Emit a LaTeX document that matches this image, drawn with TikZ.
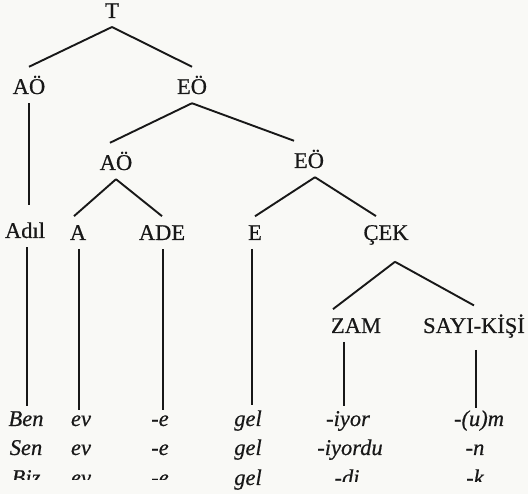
\documentclass[tikz,border=0pt]{standalone}
\usepackage{fontspec}
\setmainfont{Liberation Serif}
\usetikzlibrary{calc}
\definecolor{ink}{RGB}{24,24,24}
\definecolor{paper}{RGB}{249,249,246}
\tikzset{
  lbl/.style={anchor=base, inner sep=0pt, outer sep=9pt, text=ink, font=\fontsize{22.5}{27}\selectfont\addfontfeatures{FakeBold=0.5}},
  word/.style={anchor=base, inner sep=0pt, outer sep=5pt, text=ink, font=\fontsize{22.5}{27}\selectfont\itshape\addfontfeatures{FakeBold=0.5}},
  branch/.style={draw=ink, line width=1.9pt}
}
\begin{document}
\begin{tikzpicture}[x=1pt,y=-1pt]
\fill[paper] (0,0) rectangle (528,494);
\useasboundingbox (0,0) rectangle (528,494);
\begin{scope}
\clip (0,0) -- (528,0) -- (528,482) -- (300,482) -- (300,494) -- (212,494) -- (212,480) -- (0,480) -- cycle;
% labels
\node[lbl] (T) at (112,18) {T};
\node[lbl] (ao1) at (29,94) {AÖ};
\node[lbl] (eo1) at (192,94) {EÖ};
\node[lbl] (ao2) at (116,170) {AÖ};
\node[lbl] (eo2) at (309,168) {EÖ};
\node[lbl] (adil) at (25,238) {Adıl};
\node[lbl] (a) at (78,240) {A};
\node[lbl] (ade) at (162,240) {ADE};
\node[lbl] (e) at (255,240) {E};
\node[lbl] (cek) at (386,240) {ÇEK};
\node[lbl] (zam) at (356,333) {ZAM};
\node[lbl] (sk) at (474,333) {SAYI-KİŞİ};
% words
\node[word] (ben) at (26,426) {Ben};
\node[word] (sen) at (26,455) {Sen};
\node[word] (biz) at (26,485) {Biz};
\node[word] (ev1) at (81,426) {ev};
\node[word] (ev2) at (81,455) {ev};
\node[word] (ev3) at (81,485) {ev};
\node[word] (e1) at (160,426) {-e};
\node[word] (e2) at (160,455) {-e};
\node[word] (e3) at (160,485) {-e};
\node[word] (gel1) at (248,426) {gel};
\node[word] (gel2) at (248,455) {gel};
\node[word] (gel3) at (248,485) {gel};
\node[word] (iyor) at (348,426) {-iyor};
\node[word] (iyordu) at (350,455) {-iyordu};
\node[word] (di) at (347,485) {-di};
\node[word] (um) at (479,426) {-(u)m};
\node[word] (n) at (475,455) {-n};
\node[word] (k) at (475,485) {-k};
% branches
\draw[branch] (T.south) -- (ao1.north);
\draw[branch] (T.south) -- (eo1.north);
\draw[branch] (eo1.south) -- ([xshift=-6pt]ao2.north);
\draw[branch] (eo1.south) -- ([xshift=-15pt]eo2.north);
\draw[branch] (ao2.south) -- ([xshift=-4pt]a.north);
\draw[branch] (ao2.south) -- (ade.north);
\draw[branch] ([xshift=6pt]eo2.south) -- (e.north);
\draw[branch] ([xshift=6pt]eo2.south) -- ([xshift=-10pt]cek.north);
\draw[branch] ([xshift=9pt,yshift=-8pt]cek.south) -- ([xshift=-23pt]zam.north);
\draw[branch] ([xshift=9pt,yshift=-8pt]cek.south) -- (sk.north);
% vertical stems
\draw[branch] (ao1.south) -- ([yshift=8pt]ao1.south |- adil.north);
\draw[branch] ([xshift=2pt]adil.south) -- ([xshift=2pt]adil.south |- ben.north);
\draw[branch] ([xshift=1pt]a.south) -- ([xshift=1pt]a.south |- ev1.north);
\draw[branch] ([xshift=1pt]ade.south) -- ([xshift=1pt]ade.south |- e1.north);
\draw[branch] ([xshift=-3pt]e.south) -- ([xshift=-3pt]e.south |- gel1.north);
\draw[branch] ([xshift=-12pt]zam.south) -- ([xshift=-12pt]zam.south |- iyor.north);
\draw[branch] ([xshift=2pt,yshift=-3pt]sk.south) -- ([xshift=2pt,yshift=-3pt]sk.south |- um.north);
\end{scope}
\end{tikzpicture}
\end{document}
